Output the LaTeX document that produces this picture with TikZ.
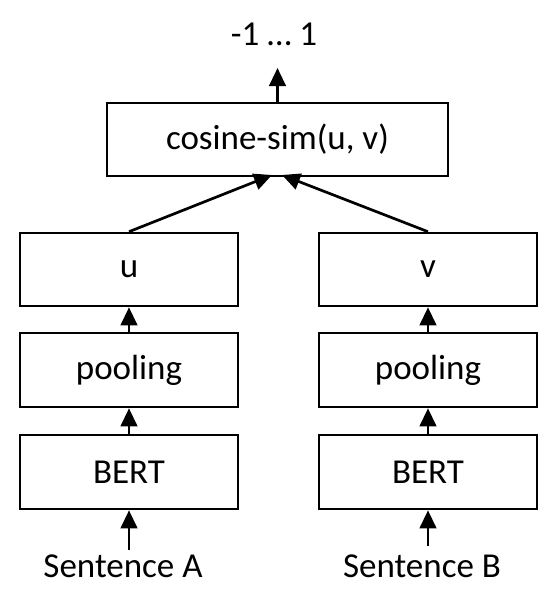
\documentclass[tikz,border=0pt]{standalone}
\usepackage{fontspec}
\setmainfont{Carlito}
\usetikzlibrary{arrows.meta}
\begin{document}
\begin{tikzpicture}[x=1pt,y=-1pt,
  box/.style={draw=black, line width=2.6pt, fill=white, inner sep=0pt,
    minimum height=73pt, font=\fontsize{35}{42}\selectfont},
  colbox/.style={box, minimum width=218pt},
  lbl/.style={inner sep=0pt, anchor=base, font=\fontsize{35}{42}\selectfont},
  flow/.style={line width=2.7pt, -{Triangle[width=16.5pt,length=18pt]}}
]
\useasboundingbox (0,0) rectangle (550,598);
% top box
\node[box, minimum width=341pt] (cos) at (277.5,139.5) {cosine-sim(u, v)};
% left column
\node[colbox] (u) at (129,269.5) {u};
\node[colbox, minimum height=74pt] (poolA) at (129,370) {pooling};
\node[colbox, minimum height=74pt] (bertA) at (129,472) {BERT};
% right column
\node[colbox] (v) at (428,269.5) {v};
\node[colbox, minimum height=74pt] (poolB) at (428,370) {pooling};
\node[colbox, minimum height=74pt] (bertB) at (428,472) {BERT};
% labels
\node[lbl] (out) at (274,45) {-1 … 1};
\node[lbl] (sa) at (123,577) {Sentence A};
\node[lbl] (sb) at (422,577) {Sentence B};
% helper coordinates
\coordinate (outtip) at (277.5,68);
\coordinate (saend) at (129,550);
\coordinate (sbend) at (428,546);
\coordinate (uin) at (272,175);
\coordinate (vin) at (282,175);
% connectors
\draw[flow] (cos.north) -- (outtip);
\draw[flow] (u.north) -- (uin);
\draw[flow] (v.north) -- (vin);
\draw[flow] (poolA.north) -- (u.south);
\draw[flow] (bertA.north) -- (poolA.south);
\draw[flow] (saend) -- (bertA.south);
\draw[flow] (poolB.north) -- (v.south);
\draw[flow] (bertB.north) -- (poolB.south);
\draw[flow] (sbend) -- (bertB.south);
\end{tikzpicture}
\end{document}
